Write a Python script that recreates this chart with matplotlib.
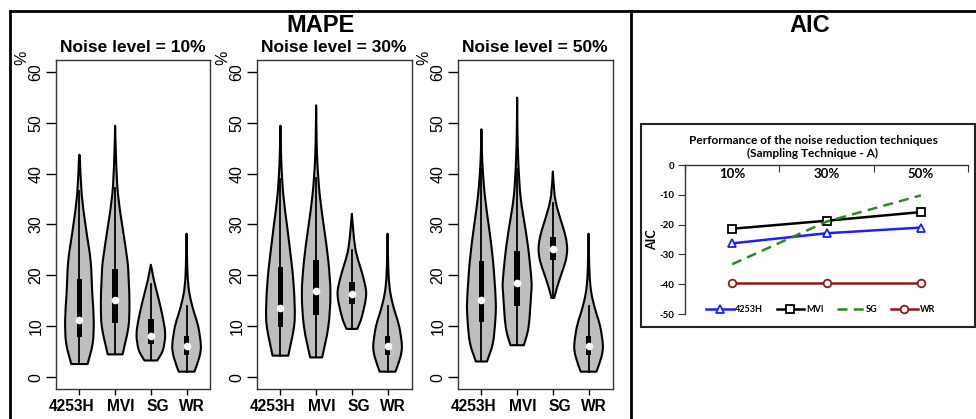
import numpy as np
import matplotlib
matplotlib.use('Agg')
import matplotlib.pyplot as plt
from matplotlib.path import Path
from matplotlib.patches import PathPatch, Rectangle
from matplotlib.lines import Line2D

plt.rcParams['font.family'] = ['Liberation Sans', 'DejaVu Sans']

methods = ['4253H', 'MVI', 'SG', 'WR']
noise_levels = ['10%', '30%', '50%']

# MAPE box summaries: one row per noise level, one column per method
mape_q1 = [[8.0, 10.6, 6.5, 4.3], [9.9, 12.3, 14.3, 4.3], [10.9, 14.0, 23.0, 4.3]]
mape_med = [[11.3, 15.1, 8.2, 6.1], [13.6, 16.9, 16.3, 6.1], [15.1, 18.5, 25.2, 6.1]]
mape_q3 = [[19.3, 21.3, 11.4, 8.2], [21.6, 23.1, 18.7, 8.2], [22.9, 24.7, 27.6, 8.2]]
mape_whisk = [[36.5, 37.2, 18.4, 14.0], [39.0, 39.1, 24.9, 14.0], [40.8, 40.8, 34.3, 14.0]]

# violin outlines: (value, relative density), min -> max
shape_wr = [(1.1, .55), (4.0, .9), (6.3, 1.0), (9.9, .82), (12.5, .55), (15.1, .3),
            (17.7, .14), (21.6, .05), (28.2, 0)]
shape_10 = [
    [(2.6, .57), (6.7, .93), (11.2, 1.0), (16.4, .9), (22.9, .78), (29.4, .45),
     (35.9, .16), (42.4, .04), (43.7, 0)],
    [(4.5, .52), (9.9, .93), (14.5, 1.0), (19.0, .95), (22.9, .86), (29.4, .52),
     (35.9, .2), (42.4, .07), (49.4, 0)],
    [(3.3, .45), (5.4, .85), (8.6, 1.0), (12.5, .78), (16.4, .45), (19.0, .22),
     (21.0, .08), (22.1, 0)],
    shape_wr,
]
shape_30 = [
    [(4.25, .55), (9.9, .95), (13.8, 1.0), (19.0, .9), (22.9, .76), (29.4, .48),
     (35.9, .2), (42.4, .06), (49.4, 0)],
    [(3.9, .42), (9.9, .85), (16.4, 1.0), (22.9, .85), (29.4, .55), (35.9, .25),
     (42.4, .08), (48.9, .02), (53.4, 0)],
    [(9.5, .38), (11.9, .7), (16.2, 1.0), (19.6, .8), (22.9, .45), (25.5, .23),
     (29.4, .08), (32.1, 0)],
    shape_wr,
]
shape_50 = [
    [(3.1, .39), (6.7, .8), (11.2, .97), (15.1, 1.0), (22.9, .81), (29.4, .53),
     (35.9, .23), (42.4, .06), (48.7, 0)],
    [(6.3, .47), (9.9, .8), (16.4, .98), (19.0, 1.0), (25.5, .77), (31.4, .45),
     (35.9, .22), (42.4, .08), (48.9, .02), (54.9, 0)],
    [(15.6, .1), (17.7, .3), (20.3, .6), (22.9, .9), (25.2, 1.0), (27.5, .9),
     (30.1, .64), (33.3, .3), (35.9, .12), (40.4, 0)],
    shape_wr,
]
mape_shapes = [shape_10, shape_30, shape_50]
# the method names sit a little off their ticks in the original
label_shift = [-0.23, 0.16, 0.19, 0.15]

# AIC lines
aic_x = ['10%', '30%', '50%']
aic_4253h = [-26.3, -22.9, -21.0]
aic_mvi = [-21.4, -18.7, -15.8]
aic_sg = [-33.3, -19.0, -10.2]
aic_wr = [-39.6, -39.6, -39.6]

W, H = 976, 419


def fx(x):
    return x / W


def fy(y):
    return 1 - y / H


def smooth(pts):
    # Catmull-Rom segments as cubic Bezier pieces
    pts = np.array(pts, dtype=float)
    ext = np.vstack([pts[0], pts, pts[-1]])
    verts, codes = [], []
    for i in range(len(pts) - 1):
        p0, p1, p2, p3 = ext[i], ext[i + 1], ext[i + 2], ext[i + 3]
        verts += [p1 + (p2 - p0) / 6, p2 - (p3 - p1) / 6, p2]
        codes += [Path.CURVE4] * 3
    return verts, codes


def violin(ax, c, prof, half=0.4):
    left = [(c - w * half, v) for v, w in prof]
    right = [(c + w * half, v) for v, w in prof][::-1]
    lv, lc = smooth(left)
    rv, rc = smooth(right)
    verts = [left[0]] + lv + rv + [left[0], left[0]]
    codes = [Path.MOVETO] + lc + rc + [Path.LINETO, Path.CLOSEPOLY]
    ax.add_patch(PathPatch(Path(verts, codes), facecolor='#BEBEBE',
                           edgecolor='black', lw=1.5, joinstyle='round', zorder=2))


fig = plt.figure(figsize=(W / 100, H / 100), dpi=100)

for k, lvl in enumerate(noise_levels):
    left = 55.5 + 201 * k
    ax = fig.add_axes([fx(left), fy(389), 155 / W, 329 / H])
    for j, m in enumerate(methods):
        c = j + 1
        prof = mape_shapes[k][j]
        violin(ax, c, prof)
        ax.plot([c, c], [prof[0][0], mape_whisk[k][j]], color='black', lw=1.3, zorder=3)
        ax.add_patch(Rectangle((c - 0.08, mape_q1[k][j]), 0.16,
                               mape_q3[k][j] - mape_q1[k][j], facecolor='black',
                               edgecolor='none', zorder=4))
        ax.plot(c, mape_med[k][j], 'o', color='white', ms=5.5, mec='none', zorder=5)
    ax.set_xlim(0.33, 4.67)
    ax.set_ylim(-2.3, 62.3)
    ax.set_yticks(range(0, 61, 10))
    ax.set_yticklabels([str(v) for v in range(0, 61, 10)], rotation=90, va='center')
    ax.set_xticks(range(1, 5))
    ax.set_xticklabels([])
    ax.set_xticks([i + 1 + label_shift[i] for i in range(4)], minor=True)
    ax.set_xticklabels(methods, minor=True, fontweight='bold', fontsize=11.2)
    ax.tick_params(axis='y', length=7, width=1, labelsize=11.5, pad=1.5)
    ax.tick_params(axis='x', which='major', length=4, width=1)
    ax.tick_params(axis='x', which='minor', length=0, pad=7)
    for s in ax.spines.values():
        s.set_color('#333333')
        s.set_linewidth(1)
    ax.set_title('Noise level = ' + lvl, fontweight='bold', fontsize=12.5, pad=6)
    fig.text(fx(left - 34), fy(57.5), '%', rotation=90, fontsize=11.5,
             ha='center', va='center')

fig.text(fx(320), fy(25), 'MAPE', fontsize=17, fontweight='bold', ha='center', va='center')
fig.text(fx(810), fy(25), 'AIC', fontsize=17, fontweight='bold', ha='center', va='center')

# frame lines
fig.add_artist(Line2D([fx(10), 1], [fy(11.5), fy(11.5)], color='black', lw=2))
fig.add_artist(Line2D([fx(10), fx(10)], [fy(11.5), 0], color='black', lw=2))
fig.add_artist(Line2D([fx(631), fx(631)], [fy(11.5), 0], color='black', lw=2))

# AIC chart box
fig.add_artist(Rectangle((fx(641), fy(327)), (974.5 - 641) / W, 203 / H,
                         transform=fig.transFigure, fill=False, ec='#222222', lw=1.5))

xf = 'Lato'
ax4 = fig.add_axes([fx(685), fy(314), 283 / W, 149 / H])
xs = np.arange(1, len(aic_x) + 1)
ax4.plot(xs, aic_4253h, color='#1E1EFF', lw=1.8, marker='^', ms=5.5, mfc='white',
         mec='#1E1EFF', mew=1.3, label='4253H')
ax4.plot(xs, aic_mvi, color='black', lw=1.8, marker='s', ms=5.5, mfc='white',
         mec='black', mew=1.3, label='MVI')
ax4.plot(xs, aic_sg, color='#2A8A1F', lw=1.8, ls=(0, (4, 2.5)), label='SG')
ax4.plot(xs, aic_wr, color='#8B1A1A', lw=1.8, marker='o', ms=5.5, mfc='white',
         mec='#8B1A1A', mew=1.3, label='WR')
ax4.set_xlim(0.5, 3.5)
ax4.set_ylim(-50, 0)
ax4.spines['right'].set_visible(False)
ax4.spines['bottom'].set_visible(False)
for s in ('top', 'left'):
    ax4.spines[s].set_color('#333333')
    ax4.spines[s].set_linewidth(1)
ax4.xaxis.set_ticks_position('top')
ax4.set_xticks([0.5, 1.5, 2.5, 3.5])
ax4.set_xticklabels([])
ax4.tick_params(axis='x', direction='in', length=5, color='#333333')
for i, lab in enumerate(aic_x):
    ax4.text(xs[i], -3.1, lab, ha='center', va='center', fontsize=9.5,
             fontweight='bold', family=xf)
ax4.set_yticks(range(-50, 1, 10))
ax4.set_yticklabels([str(v) for v in range(-50, 1, 10)], fontweight='bold',
                    fontsize=7, family=xf)
ax4.tick_params(axis='y', direction='out', length=5, pad=2.5, color='#333333')
ax4.set_ylabel('AIC', fontweight='bold', fontsize=9, family=xf, labelpad=1)
ax4.legend(ncol=4, loc='center', bbox_to_anchor=(0.48, 0.032), frameon=False,
           prop={'family': xf, 'weight': 'bold', 'size': 6.5}, handlelength=3.0,
           columnspacing=1.5, handletextpad=0.2)
fig.text(fx(813), fy(147), 'Performance of the noise reduction techniques\n'
         '(Sampling Technique - A)', ha='center', va='center', fontsize=8.6,
         fontweight='bold', family=xf, linespacing=1.15)

fig.savefig('out.png', dpi=100)
